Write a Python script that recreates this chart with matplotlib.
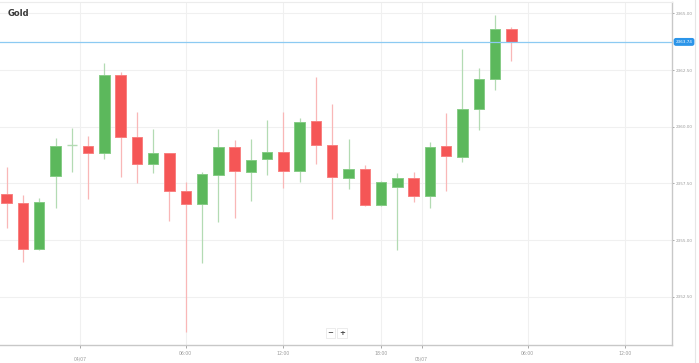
import numpy as np
import matplotlib.pyplot as plt
from matplotlib.patches import Rectangle

# velas de 1 hora, Gold
opens = [2357.02, 2356.62, 2354.61, 2357.81, 2359.19, 2359.16, 2358.85, 2362.28,
         2359.56, 2358.34, 2358.83, 2357.16, 2356.58, 2357.87, 2359.12, 2358.00,
         2358.56, 2358.90, 2358.05, 2360.24, 2359.18, 2357.72, 2358.15, 2356.55,
         2357.35, 2357.75, 2356.94, 2359.16, 2358.68, 2360.78, 2362.09, 2364.30]
highs = [2358.24, 2356.99, 2356.84, 2359.51, 2359.93, 2359.59, 2362.81, 2362.41,
         2360.64, 2359.90, 2358.85, 2357.55, 2358.01, 2359.90, 2359.41, 2359.44,
         2360.30, 2360.66, 2360.37, 2362.18, 2361.00, 2359.46, 2358.31, 2357.60,
         2357.94, 2357.99, 2359.34, 2360.59, 2363.41, 2362.60, 2364.93, 2364.39]
lows = [2355.54, 2354.05, 2354.56, 2356.43, 2358.01, 2356.80, 2358.58, 2357.77,
        2357.50, 2357.97, 2355.85, 2350.96, 2353.97, 2355.81, 2355.99, 2356.74,
        2357.87, 2357.28, 2357.57, 2358.34, 2355.92, 2357.24, 2356.50, 2356.52,
        2354.56, 2356.69, 2356.40, 2357.18, 2358.43, 2359.85, 2361.62, 2362.90]
closes = [2356.62, 2354.61, 2356.67, 2359.16, 2359.20, 2358.85, 2362.28, 2359.56,
          2358.35, 2358.83, 2357.16, 2356.58, 2357.91, 2359.12, 2358.05, 2358.53,
          2358.90, 2358.05, 2360.21, 2359.18, 2357.77, 2358.15, 2356.55, 2357.57,
          2357.75, 2356.94, 2359.12, 2358.72, 2360.78, 2362.10, 2364.30, 2363.74]

# posiciones de los ticks en unidades de vela
xtick_pos = [4.53, 11, 17, 23, 25.49, 32, 38]
xtick_labels = ['\n04/07', '06:00', '12:00', '18:00', '\n05/07', '06:00', '12:00']
ytick_vals = [2352.5, 2355.0, 2357.5, 2360.0, 2362.5, 2365.0]

verde, verde_claro, verde_borde = '#5cb85c', '#b3dbb3', '#86cc86'
rojo, rojo_claro, rojo_borde = '#f55656', '#f9b7b7', '#f88080'

fig = plt.figure(figsize=(6.99, 3.63), dpi=100)
ax = fig.add_axes([0, 18 / 363, 672 / 699, 343 / 363])

n = len(opens)
x = np.arange(n)
ancho = 0.64
for i in range(n):
    o, h, l, c = opens[i], highs[i], lows[i], closes[i]
    sube = c >= o
    col = verde if sube else rojo
    claro = verde_claro if sube else rojo_claro
    borde = verde_borde if sube else rojo_borde
    ax.vlines(x[i], l, h, color=claro, lw=0.9, zorder=2)
    if abs(c - o) < 0.03:
        ax.hlines(o, x[i] - ancho / 2, x[i] + ancho / 2, color=claro, lw=1.0, zorder=3)
    else:
        ax.add_patch(Rectangle((x[i] - ancho / 2, min(o, c)), ancho, abs(c - o),
                               facecolor=col, edgecolor=borde, lw=0.7, zorder=3))

# linea de precio actual
precio = closes[-1]
ax.axhline(precio, color='#8ccaf2', lw=0.9, zorder=4)
ax.annotate('%.2f' % precio, xy=(1, precio), xycoords=('axes fraction', 'data'),
            xytext=(2.6, 0), textcoords='offset points', ha='left', va='center',
            fontsize=3.0, color='white', annotation_clip=False,
            bbox=dict(boxstyle='round,pad=0.3,rounding_size=0.4', fc='#2b95e9', ec='#2b95e9'))

ax.set_xlim(-0.41, 40.87)
ax.set_ylim(2350.37, 2365.5)
ax.set_xticks(xtick_pos)
ax.set_xticklabels(xtick_labels)
ax.set_yticks(ytick_vals)
ax.set_yticklabels(['%.2f' % v for v in ytick_vals])
ax.yaxis.tick_right()
ax.tick_params(axis='both', labelsize=3.3, colors='#9a9a9a', length=2.5, width=0.6, pad=1.5)
ax.tick_params(axis='y', labelsize=3.0, length=1.5, pad=1.5)
ax.grid(True, color='#f0f0f0', lw=0.8, zorder=0)
ax.set_axisbelow(True)
for lado in ['left']:
    ax.spines[lado].set_visible(False)
ax.spines['top'].set_color('#ececec')
ax.spines['top'].set_linewidth(0.8)
ax.spines['right'].set_color('#c8c8c8')
ax.spines['bottom'].set_color('#c8c8c8')
ax.spines['right'].set_linewidth(1.0)
ax.spines['bottom'].set_linewidth(1.0)

ax.text(0.012, 0.967, 'Gold', transform=ax.transAxes, fontsize=6, fontweight='bold',
        color='#3a3a3a', ha='left', va='center')

# botones de zoom
for bx, s in [(330.5 / 672, '−'), (342 / 672, '+')]:
    ax.text(bx, 0.035, s, transform=ax.transAxes, fontsize=5, fontweight='bold',
            color='#444444', ha='center', va='center',
            bbox=dict(boxstyle='square,pad=0.25', fc='white', ec='#e4e4e4', lw=0.5))

# borde derecho del contenedor
fig.add_artist(plt.Line2D([695 / 699, 695 / 699], [0, 1], color='#e6e6e6', lw=0.8))

fig.savefig('out.png', dpi=100, facecolor='white')
